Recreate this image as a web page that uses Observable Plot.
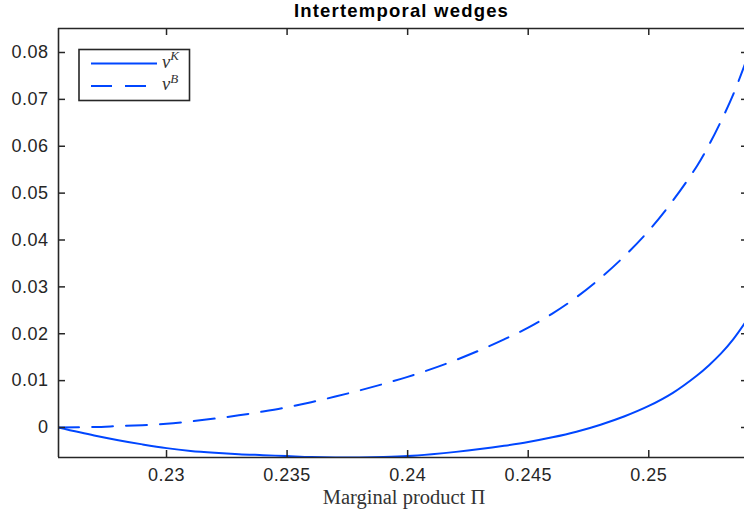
<!DOCTYPE html>
<html><head><meta charset="utf-8">
<script src="https://cdn.jsdelivr.net/npm/d3@7"></script>
<script src="https://cdn.jsdelivr.net/npm/@observablehq/plot@0.6"></script>
<style>html,body{margin:0;padding:0;background:#fff}</style>
</head><body><div id="chart"></div>
<script>
// ---- data ----
const xVals = [0.2255, 0.227, 0.228, 0.229, 0.230, 0.231, 0.232, 0.233, 0.234, 0.235,
  0.236, 0.237, 0.238, 0.239, 0.240, 0.241, 0.242, 0.243, 0.244, 0.245,
  0.246, 0.247, 0.248, 0.249, 0.250, 0.251, 0.252, 0.2525, 0.253, 0.2535, 0.254];
const nuK = [0, -0.0017, -0.0027, -0.0036, -0.0044, -0.0050, -0.0054, -0.0057, -0.0059, -0.0061,
  -0.0063, -0.0064, -0.0064, -0.0063, -0.0061, -0.0057, -0.0052, -0.0046, -0.0039, -0.0031,
  -0.0021, -0.0009, 0.0006, 0.0024, 0.0046, 0.0074, 0.0111, 0.0133, 0.0158, 0.0188, 0.0224];
const nuB = [0, 0.0001, 0.0003, 0.0005, 0.0008, 0.0013, 0.0019, 0.0026, 0.0034, 0.0043,
  0.0054, 0.0066, 0.0079, 0.0093, 0.0108, 0.0125, 0.0144, 0.0165, 0.0188, 0.0213,
  0.0243, 0.0278, 0.0319, 0.0366, 0.0420, 0.0484, 0.0558, 0.0603, 0.0654, 0.0710, 0.0777];
const xTicks = [0.23, 0.235, 0.24, 0.245, 0.25];
const yTicks = [0, 0.01, 0.02, 0.03, 0.04, 0.05, 0.06, 0.07, 0.08];
const xDomain = [0.22552, 0.25397];
const yDomain = [-0.0064, 0.08512];
const titleText = "Intertemporal wedges";
const xLabelText = "Marginal product Π";
const seriesLabels = ["K", "B"];

// ---- layout / style ----
const W = 744, H = 514;
const mL = 58, mR = 0, mT = 28, mB = 57;
const plotW = W - mL - mR, plotH = H - mT - mB;
const blue = "#0046ff";
const axisColor = "#262626";
const dash = "21,13";

const rows = xVals.map((x, i) => ({x, k: nuK[i], b: nuB[i]}));

const chart = Plot.plot({
  width: W, height: H,
  marginLeft: mL, marginRight: mR, marginTop: mT, marginBottom: mB,
  x: {domain: xDomain},
  y: {domain: yDomain},
  style: {fontFamily: "'Liberation Sans', Arial, sans-serif", fontSize: "18px", color: axisColor, background: "#fff"},
  marks: [
    Plot.line(rows, {x: "x", y: "b", stroke: blue, strokeWidth: 2, strokeDasharray: dash, curve: "catmull-rom", clip: true}),
    Plot.line(rows, {x: "x", y: "k", stroke: blue, strokeWidth: 2, curve: "catmull-rom", clip: true}),
    // frame (left, bottom, top)
    Plot.ruleX([xDomain[0]], {stroke: axisColor, strokeWidth: 1.6}),
    Plot.ruleY([yDomain[0]], {stroke: axisColor, strokeWidth: 1.6}),
    Plot.ruleY([yDomain[1]], {stroke: axisColor, strokeWidth: 1.6}),
    // inward ticks
    Plot.tickX(xTicks, {x: d => d, insetTop: plotH - 7, stroke: axisColor, strokeWidth: 1.5}),
    Plot.tickX(xTicks, {x: d => d, insetBottom: plotH - 7, stroke: axisColor, strokeWidth: 1.5}),
    Plot.tickY(yTicks, {y: d => d, insetRight: plotW - 7, stroke: axisColor, strokeWidth: 1.5}),
    Plot.tickY(yTicks, {y: d => d, insetLeft: plotW - 3, stroke: axisColor, strokeWidth: 1.5}),
    // tick labels
    Plot.axisX(xTicks, {tickSize: 0, tickPadding: 11, label: null, tickFormat: d => String(+d.toFixed(3)), fill: axisColor}),
    Plot.axisY(yTicks, {tickSize: 0, tickPadding: 10, label: null, tickFormat: d => d === 0 ? "0" : d.toFixed(2), fill: axisColor}),
    // title and x label
    Plot.text([titleText], {frameAnchor: "top", lineAnchor: "middle", dy: -17.6, text: d => d, fontWeight: "bold", fontSize: 18.5, fill: "#000"}),
    Plot.text([xLabelText], {frameAnchor: "bottom", lineAnchor: "middle", dy: 40.4, dx: 2.5, text: d => d, fontFamily: "'Liberation Serif', 'Times New Roman', serif", fontSize: 20.5, fill: "#333"})
  ]
});

const svg = d3.select(chart);
svg.selectAll("g[aria-label='x-axis tick label'] text, g[aria-label='y-axis tick label'] text").style("letter-spacing", "0.5px");
svg.selectAll("g[aria-label='text'] text").filter(function(){ return this.textContent === titleText; }).style("letter-spacing", "1.2px");

// legend
const lg = svg.append("g").attr("text-anchor", "start");
lg.append("rect").attr("x", 79).attr("y", 49.5).attr("width", 110.5).attr("height", 51)
  .attr("fill", "#fff").attr("stroke", axisColor).attr("stroke-width", 1.6);
const entries = [{name: seriesLabels[0], dash: null, y: 63.5}, {name: seriesLabels[1], dash: dash, y: 86}];
entries.forEach(e => {
  lg.append("line").attr("x1", 91).attr("x2", 157).attr("y1", e.y).attr("y2", e.y)
    .attr("stroke", blue).attr("stroke-width", 2).attr("stroke-dasharray", e.dash);
  const t = lg.append("text").attr("x", 162).attr("y", e.y + 4)
    .attr("text-anchor", "start")
    .attr("font-family", "'Liberation Serif', 'Times New Roman', serif").attr("font-style", "italic")
    .attr("font-size", 18.5).attr("fill", "#333");
  t.append("tspan").text("ν");
  t.append("tspan").attr("dy", -7.5).attr("font-size", 13).text(e.name);
});

document.getElementById("chart").appendChild(chart);
</script>
</body></html>
